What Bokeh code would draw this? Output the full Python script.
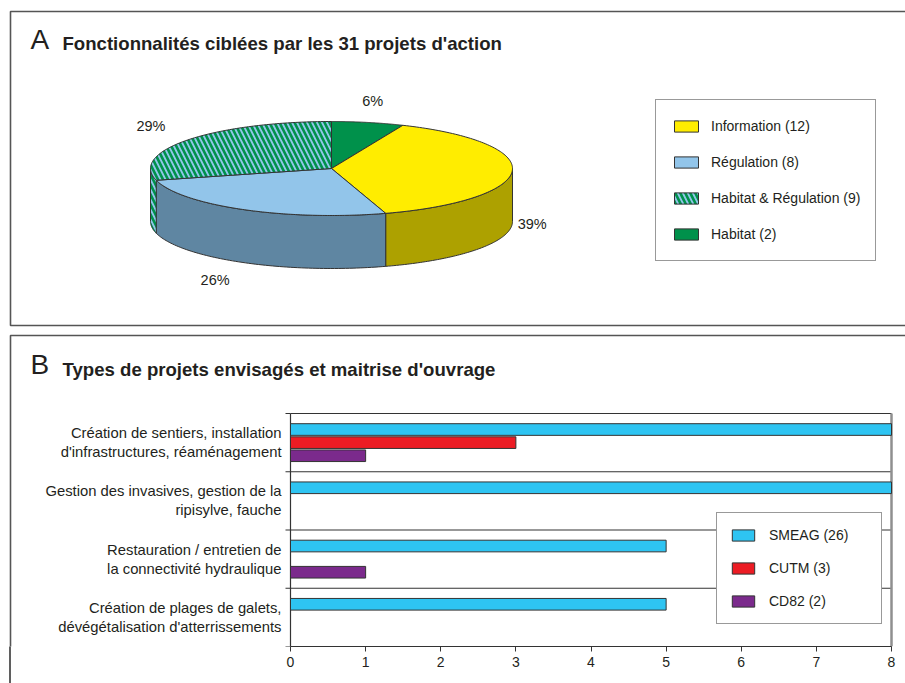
import numpy as np
from bokeh.plotting import figure
from bokeh.models import Range1d, ColumnDataSource, Legend, LegendItem, FixedTicker
from bokeh.layouts import column
from bokeh.embed import file_html
from bokeh.resources import INLINE
from bokeh.core.properties import value

# ---------------- data : panel A (pie) ----------------
pie_title = "Fonctionnalités ciblées par les 31 projets d'action"
pie_names = ["Habitat", "Information", "Régulation", "Habitat & Régulation"]   # clockwise from 12 o'clock
pie_counts = [2, 12, 8, 9]
legend_order = ["Information", "Régulation", "Habitat & Régulation", "Habitat"]

# ---------------- data : panel B (bars) ----------------
bar_title = "Types de projets envisagés et maitrise d'ouvrage"
bar_categories = [
    "Création de sentiers, installation\nd'infrastructures, réaménagement",
    "Gestion des invasives, gestion de la\nripisylve, fauche",
    "Restauration / entretien de\nla connectivité hydraulique",
    "Création de plages de galets,\ndévégétalisation d'atterrissements",
]
series_names = ["SMEAG", "CUTM", "CD82"]
smeag = [8, 8, 5, 5]
cutm = [3, 0, 0, 0]
cd82 = [1, 0, 1, 0]
x_ticks = [0, 1, 2, 3, 4, 5, 6, 7, 8]

# ---------------- styles ----------------
FONT = "Liberation Sans"
TXT = "#231f20"
EDGE = "#333333"
PANEL = "#555555"
top_colors = {"Habitat": "#00914b", "Information": "#ffed00",
              "Régulation": "#92c5ea", "Habitat & Régulation": "#92c5ea"}
side_colors = {"Habitat": "#006b37", "Information": "#ada100",
               "Régulation": "#5f86a2", "Habitat & Régulation": "#92c5ea"}
hatched = {"Habitat & Régulation"}
bar_colors = ["#2ec4f2", "#ec1c24", "#7b2a8c"]

W, HA, HB = 905, 330, 353

# =============== Panel A ===============
pA = figure(width=W, height=HA, x_range=Range1d(0, W), y_range=Range1d(0, HA),
            output_backend="svg", toolbar_location=None, title=None,
            x_axis_location=None, y_axis_location=None, min_border=0,
            outline_line_color=None)
pA.xgrid.visible = False
pA.ygrid.visible = False

pA.patch(x=[10, 960, 960, 10], y=[HA - 11, HA - 11, HA - 325, HA - 325], fill_color=None,
         line_color=PANEL, line_width=1.6)
pA.text(x=[30], y=[HA - 39], text=["A"], text_font=value(FONT), text_font_size="28px",
        text_color=TXT, text_baseline="middle", text_align="left")
pA.text(x=[62], y=[HA - 43], text=[pie_title], text_font=value(FONT), text_font_size="18.6px",
        text_font_style="bold", text_color=TXT, text_baseline="middle", text_align="left")

cx, cy, rx, ry, depth = 331.0, HA - 168.0, 181.0, 47.0, 53.0
total = sum(pie_counts)
fr = np.array(pie_counts) / total
a_end = np.cumsum(fr) * 360.0
a_start = a_end - fr * 360.0


def ell(th):
    t = np.radians(th)
    return cx + rx * np.sin(t), cy + ry * np.cos(t)


def fill_kw(name, colors):
    kw = dict(fill_color=colors[name], line_color=EDGE, line_width=1)
    if name in hatched:
        kw.update(hatch_pattern="left_diagonal_line", hatch_color="#00914b",
                  hatch_weight=2.6, hatch_scale=10)
    return kw


for name, a1, a2 in zip(pie_names, a_start, a_end):
    s, e = max(a1, 90.0), min(a2, 270.0)
    if e > s:
        th = np.linspace(s, e, 80)
        tx, ty = ell(th)
        pA.patch(x=list(tx) + list(tx[::-1]), y=list(ty) + list(ty[::-1] - depth),
                 **fill_kw(name, side_colors))

top_r = {}
for name, a1, a2 in zip(pie_names, a_start, a_end):
    th = np.linspace(a1, a2, 120)
    tx, ty = ell(th)
    top_r[name] = pA.patch(x=[cx] + list(tx), y=[cy] + list(ty), **fill_kw(name, top_colors))

# percentage labels around the pie
lab = dict(x=[], y=[], text=[], align=[])
for c, a1, a2 in zip(pie_counts, a_start, a_end):
    m = np.radians((a1 + a2) / 2)
    ux, uy = np.sin(m), np.cos(m)
    if ux > 0.3:
        kx, al = 1.03, "left"
    elif ux < -0.3:
        kx, al = 1.16, "right"
    else:
        kx, al = 1.13, "center"
    lab["x"].append(cx + kx * rx * ux)
    lab["y"].append(cy + 1.45 * ry * uy - (depth if uy < 0 else 0) + 1)
    lab["text"].append(f"{round(100 * c / total)}%")
    lab["align"].append(al)
pA.text(x="x", y="y", text="text", text_align="align", text_baseline="middle",
        source=ColumnDataSource(lab), text_font=value(FONT), text_font_size="14.5px",
        text_color=TXT)

legA = Legend(items=[LegendItem(label=f"{nm} ({pie_counts[pie_names.index(nm)]})",
                                renderers=[top_r[nm]]) for nm in legend_order],
              location=(655, HA - 261), margin=0, padding=15, spacing=14,
              glyph_width=30, glyph_height=14, label_standoff=10, label_height=22,
              label_text_font=FONT, label_text_font_size="14px", label_text_color=TXT,
              border_line_color=EDGE, border_line_width=1,
              background_fill_color="white", background_fill_alpha=1.0)
pA.add_layout(legA)

# =============== Panel B ===============
n = len(bar_categories)
PL, PR = 290, 891                # plot area left/right (page pixels)
PT, PB_ = 413, 646               # plot area top/bottom (page pixels)
FH = PB_ - HA                    # frame height; x axis sits below it
AXIS_H = HB - FH
sx = (PR - PL) / 8.0
sy = (PB_ - PT) / n

pB = figure(width=W, height=HB,
            x_range=Range1d(-PL / sx, 8 + (W - PR) / sx),
            y_range=Range1d(0, FH / sy),
            output_backend="svg", toolbar_location=None, title=None,
            y_axis_location=None, min_border_left=0, min_border_right=0,
            min_border_top=0, min_border_bottom=AXIS_H, outline_line_color=None,
            background_fill_color="white", border_fill_color=None)
# the panel's left edge continues behind the (transparent) x-axis strip
pB.styles = {"background": "linear-gradient(to right, transparent 9px, #5f5f5f 9px, "
                           "#5f5f5f 11px, transparent 11px) left bottom / 100% "
                           f"{HA + HB - 335}px no-repeat"}
pB.extra_x_ranges = {"px": Range1d(0, W)}
pB.extra_y_ranges = {"px": Range1d(0, FH)}
pB.xgrid.grid_line_color = None
pB.ygrid.grid_line_color = None
pB.ygrid.visible = False

# panel frame + title (pixel space: x = page x, y = up from plot bottom)
pB.patch(x=[10, 960, 960, 10], y=[PB_ - 335, PB_ - 335, -80, -80], fill_color=None,
         line_color=PANEL, line_width=1.6, x_range_name="px", y_range_name="px")
pB.text(x=[30], y=[PB_ - 364], text=["B"], text_font=value(FONT), text_font_size="28px",
        text_color=TXT, text_baseline="middle", text_align="left",
        x_range_name="px", y_range_name="px")
pB.text(x=[62], y=[PB_ - 369], text=[bar_title], text_font=value(FONT), text_font_size="18.6px",
        text_font_style="bold", text_color=TXT, text_baseline="middle", text_align="left",
        x_range_name="px", y_range_name="px")

# category separators, plot border, y axis line and ticks
bounds = list(range(n + 1))
pB.segment(x0=[0] * (n + 1), x1=[8] * (n + 1), y0=bounds, y1=bounds,
           line_color=EDGE, line_width=1.2)
pB.segment(x0=[-5 / sx] * (n + 1), x1=[0] * (n + 1), y0=bounds, y1=bounds,
           line_color=EDGE, line_width=1.2)
pB.segment(x0=[0], x1=[0], y0=[0], y1=[n], line_color=EDGE, line_width=1.2)
pB.segment(x0=[8], x1=[8], y0=[0], y1=[n], line_color="#8f8f8f", line_width=2.5)

# category labels
pB.text(x=[-9 / sx] * n, y=[n - 0.5 - i for i in range(n)], text=bar_categories,
        text_font=value(FONT), text_font_size="14.8px", text_color=TXT,
        text_align="right", text_baseline="middle", text_line_height=1.2)

offsets = [0.225, 0.0, -0.225]
renderers = []
for k, (sname, vals) in enumerate(zip(series_names, [smeag, cutm, cd82])):
    ys = [n - 0.5 - i + offsets[k] for i, v in enumerate(vals) if v > 0]
    vs = [v for v in vals if v > 0]
    src = ColumnDataSource(dict(y=ys, right=vs))
    r = pB.hbar(y="y", left=0, right="right", height=0.2, source=src,
                fill_color=bar_colors[k], line_color=EDGE, line_width=1)
    renderers.append((f"{sname} ({sum(vals)})", r))

xax = pB.xaxis[0]
xax.bounds = (0, 8)
xax.ticker = FixedTicker(ticks=x_ticks)
xax.major_tick_out = 5
xax.major_tick_in = 0
xax.major_tick_line_color = EDGE
xax.minor_tick_line_color = None
xax.major_label_standoff = 5
xax.major_label_text_font = FONT
xax.major_label_text_font_size = "14px"
xax.major_label_text_color = TXT
xax.axis_line_color = EDGE
xax.axis_line_width = 1.2

legB = Legend(items=[LegendItem(label=lab_, renderers=[r]) for lab_, r in renderers],
              location=(716, PB_ - 624), margin=0, padding=12, spacing=13,
              glyph_width=28, glyph_height=14, label_standoff=12, label_width=100,
              label_height=20, label_text_font=FONT, label_text_font_size="14px",
              label_text_color=TXT, border_line_color=EDGE, border_line_width=1,
              background_fill_color="white", background_fill_alpha=1.0)
pB.add_layout(legB)

layout = column(pA, pB, spacing=0)
open("out.html", "w").write(file_html(layout, INLINE))
